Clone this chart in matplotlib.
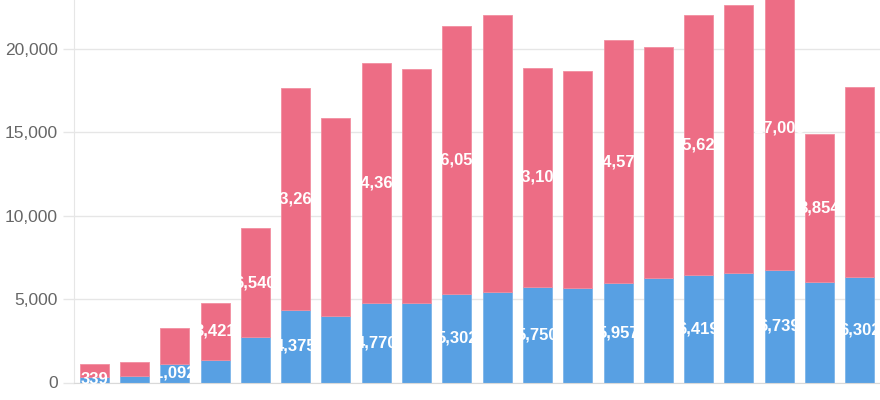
import numpy as np
import matplotlib
matplotlib.use('Agg')
import matplotlib.pyplot as plt

# x labels are cropped out of the reference, so these are only placeholders
categories = ['P%d' % (i + 1) for i in range(20)]
blue_values = [339, 401, 1092, 1353, 2727, 4375, 3995, 4770, 4765, 5302,
               5451, 5750, 5673, 5957, 6253, 6419, 6553, 6739, 6045, 6302]
red_values = [763, 821, 2202, 3421, 6540, 13267, 11842, 14368, 14044, 16056,
              16590, 13106, 13000, 14578, 13840, 15622, 16070, 17003, 8854, 11410]
# labels that survive the overlap hiding in the reference
blue_label_idx = [0, 2, 5, 7, 9, 11, 13, 15, 17, 19]
red_label_idx = [3, 4, 5, 7, 9, 11, 13, 15, 17, 18]
y_ticks = [0, 5000, 10000, 15000, 20000]

BLUE = '#58A0E3'
RED = '#ED6D85'
GRID = '#e6e6e6'

plt.rcParams['font.family'] = ['Liberation Sans', 'DejaVu Sans']

fig = plt.figure(figsize=(8.8, 4.0), dpi=100)
ax = fig.add_axes([74 / 880, 17.5 / 400, 1 - 74 / 880, 1 - 17.5 / 400])

x = np.arange(len(categories))
blue = np.array(blue_values)
red = np.array(red_values)

ax.bar(x, blue, width=0.72, color=BLUE, edgecolor='#7db5ea', linewidth=0.6, zorder=2)
ax.bar(x, red, width=0.72, bottom=blue, color=RED, edgecolor='#f28ea0', linewidth=0.6, zorder=2)

for i in blue_label_idx:
    ax.text(x[i], blue[i] / 2, '{:,}'.format(blue[i]), ha='center', va='center',
            color='white', fontsize=12, fontweight='bold', zorder=3)
for i in red_label_idx:
    ax.text(x[i], blue[i] + red[i] / 2, '{:,}'.format(red[i]), ha='center', va='center',
            color='white', fontsize=12, fontweight='bold', zorder=3)

ax.set_xlim(-0.5, len(categories) - 0.5)
ax.set_ylim(0, 22940)
ax.set_yticks(y_ticks)
ax.set_yticklabels(['{:,}'.format(t) for t in y_ticks])
ax.set_xticks(x)
ax.set_xticklabels([])
ax.tick_params(axis='x', length=0)
ax.tick_params(axis='y', length=8, width=1, color=GRID, labelsize=12.5,
               labelcolor='#666666', pad=3.5)
ax.yaxis.grid(True, color=GRID, linewidth=1, zorder=0)
ax.set_axisbelow(True)

for side in ['top', 'right']:
    ax.spines[side].set_visible(False)
ax.spines['left'].set_color(GRID)
ax.spines['bottom'].set_color('#d9d9d9')

fig.savefig('out.png', dpi=100)
